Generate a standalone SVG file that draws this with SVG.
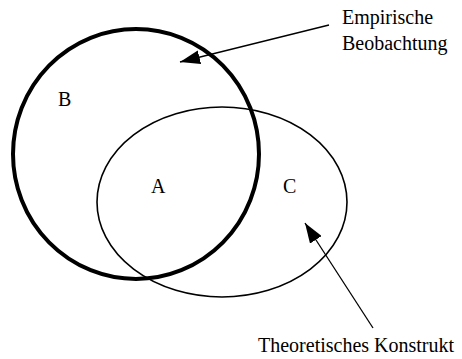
<svg xmlns="http://www.w3.org/2000/svg" width="462" height="359" viewBox="0 0 462 359">
<style>
text{font-family:"Liberation Serif","Times New Roman",serif;font-size:20px;fill:#000}
.c{fill:none;stroke:#000}
.ln{stroke:#000;stroke-width:1.3;fill:none}
</style>
<defs>
<marker id="ah" markerUnits="userSpaceOnUse" markerWidth="22" markerHeight="14" refX="20" refY="7" orient="auto">
<path d="M0,0 L20,7 L0,14 Z" fill="#000"/>
</marker>
</defs>
<rect width="462" height="359" fill="#fff"/>
<g id="circleB"><ellipse class="c" cx="136" cy="154" rx="123" ry="125" stroke-width="4"/><text x="58" y="106">B</text></g>
<g id="ellipseC"><ellipse class="c" cx="222" cy="202" rx="125" ry="95" stroke-width="1.6"/><text x="283" y="193">C</text></g>
<g id="regionA"><text x="151" y="193">A</text></g>
<g id="labelE"><text x="342" y="24">Empirische</text><text x="342" y="50">Beobachtung</text></g>
<g id="labelT"><text x="258" y="352">Theoretisches Konstrukt</text></g>
<g id="connectors">
<line class="ln" x1="329" y1="25" x2="180" y2="62" marker-end="url(#ah)"/>
<line class="ln" x1="373" y1="328" x2="305" y2="223" marker-end="url(#ah)"/>
</g>
</svg>
